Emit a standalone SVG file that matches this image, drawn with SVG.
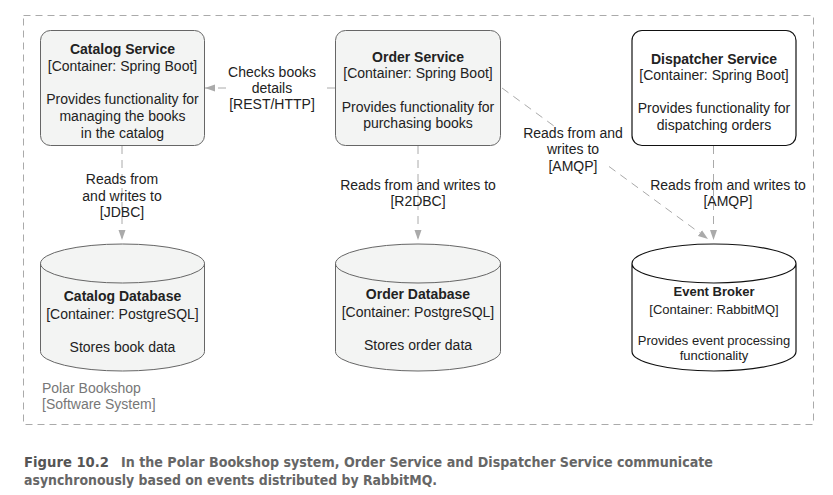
<svg xmlns="http://www.w3.org/2000/svg" width="833" height="495" viewBox="0 0 833 495">
<defs>
<style>
text{font-family:"Liberation Sans",Arial,sans-serif;font-size:14px;fill:#222;text-anchor:middle}
.b{font-weight:bold}
.s13{font-size:13px}
.box{fill:#f3f4f3;stroke:#666;stroke-width:1}
.boxw{fill:#fff;stroke:#111;stroke-width:1.2}
.edge{fill:none;stroke:#aaa;stroke-width:1;stroke-dasharray:8 6}
.bound{fill:none;stroke:#aaa;stroke-width:1;stroke-dasharray:7 5}
.sys{fill:#777;text-anchor:start}
.cap{font-family:"DejaVu Sans Condensed","Liberation Sans Narrow","DejaVu Sans",sans-serif;font-stretch:condensed;font-weight:bold;font-size:14.5px;fill:#666;text-anchor:start}
</style>
<marker id="ah" markerUnits="userSpaceOnUse" markerWidth="10" markerHeight="8" refX="10" refY="4" orient="auto">
<path d="M0,0.5 L10,4 L0,7.5 Z" fill="#aaa"/>
</marker>
</defs>
<rect width="833" height="495" fill="#fff"/>
<g id="boundary">
<rect class="bound" x="23.5" y="15.5" width="790" height="409"/>
<text class="sys" x="42" y="393">Polar Bookshop</text>
<text class="sys" x="42" y="409">[Software System]</text>
</g>
<g id="connectors">
<path class="edge" d="M335,88 L322,88 M226,88 L205,88" marker-end="url(#ah)"/>
<text x="272" y="76.5">Checks books</text>
<text x="272" y="93">details</text>
<text x="272" y="109">[REST/HTTP]</text>
<path class="edge" d="M122,146 L122,240" marker-end="url(#ah)"/>
<text x="122" y="184">Reads from</text>
<text x="122" y="200.5">and writes to</text>
<text x="122" y="216.5">[JDBC]</text>
<path class="edge" d="M418,146 L418,240" marker-end="url(#ah)"/>
<text x="418" y="190">Reads from and writes to</text>
<text x="418" y="206">[R2DBC]</text>
<path class="edge" d="M502,88 L556,127.5 M609,166.5 L708,239" marker-end="url(#ah)"/>
<text x="573" y="137.5">Reads from and</text>
<text x="573" y="154">writes to</text>
<text x="573" y="170.5">[AMQP]</text>
<path class="edge" d="M713.5,146 L713.5,240" marker-end="url(#ah)"/>
<text x="728" y="189.5">Reads from and writes to</text>
<text x="728" y="206">[AMQP]</text>
</g>
<g id="catalog-service">
<rect class="box" x="40.5" y="30.5" width="164" height="115" rx="10"/>
<text class="b" x="122.5" y="54">Catalog Service</text>
<text x="122.5" y="70.5">[Container: Spring Boot]</text>
<text x="122.5" y="104">Provides functionality for</text>
<text x="122.5" y="120.5">managing the books</text>
<text x="122.5" y="137.5">in the catalog</text>
</g>
<g id="order-service">
<rect class="box" x="335.5" y="30.5" width="165" height="115" rx="10"/>
<text class="b" x="418" y="61.5">Order Service</text>
<text x="418" y="77.5">[Container: Spring Boot]</text>
<text x="418" y="111.5">Provides functionality for</text>
<text x="418" y="128">purchasing books</text>
</g>
<g id="dispatcher-service">
<rect class="boxw" x="632" y="30.5" width="164" height="115" rx="10"/>
<text class="b" x="714" y="64">Dispatcher Service</text>
<text x="714" y="80">[Container: Spring Boot]</text>
<text x="714" y="113">Provides functionality for</text>
<text x="714" y="130">dispatching orders</text>
</g>
<g id="catalog-database">
<path class="box" d="M40.5,263.5 L40.5,351.5 A82,19.5 0 0 0 204.5,351.5 L204.5,263.5 A82,19.5 0 0 0 40.5,263.5 Z M40.5,263.5 A82,19.5 0 0 0 204.5,263.5"/>
<text class="b" x="122.5" y="301">Catalog Database</text>
<text x="122.5" y="319">[Container: PostgreSQL]</text>
<text x="122.5" y="352">Stores book data</text>
</g>
<g id="order-database">
<path class="box" d="M335.5,263.5 L335.5,351.5 A82.5,19.5 0 0 0 500.5,351.5 L500.5,263.5 A82.5,19.5 0 0 0 335.5,263.5 Z M335.5,263.5 A82.5,19.5 0 0 0 500.5,263.5"/>
<text class="b" x="418" y="299">Order Database</text>
<text x="418" y="317">[Container: PostgreSQL]</text>
<text x="418" y="349.5">Stores order data</text>
</g>
<g id="event-broker">
<path class="boxw" d="M632,263.5 L632,351.5 A82,19.5 0 0 0 796,351.5 L796,263.5 A82,19.5 0 0 0 632,263.5 Z M632,263.5 A82,19.5 0 0 0 796,263.5"/>
<text class="b s13" x="714" y="296">Event Broker</text>
<text class="s13" x="714" y="314">[Container: RabbitMQ]</text>
<text class="s13" x="714" y="344.5">Provides event processing</text>
<text class="s13" x="714" y="359.5">functionality</text>
</g>
<g id="caption">
<text class="cap" x="24" y="467" textLength="85" lengthAdjust="spacingAndGlyphs" style="fill:#555">Figure 10.2</text>
<text class="cap" x="121" y="467" textLength="592" lengthAdjust="spacingAndGlyphs">In the Polar Bookshop system, Order Service and Dispatcher Service communicate</text>
<text class="cap" x="24" y="485" textLength="413" lengthAdjust="spacingAndGlyphs">asynchronously based on events distributed by RabbitMQ.</text>
</g>
</svg>
